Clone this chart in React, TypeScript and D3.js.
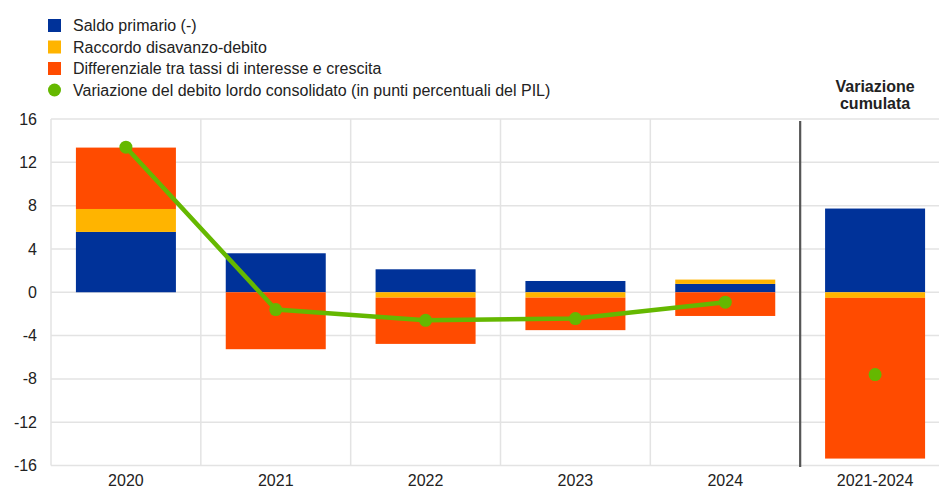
import React from "react";
import * as d3 from "d3";

const categories = ["2020", "2021", "2022", "2023", "2024", "2021-2024"];
const saldoPrimario = [5.57, 3.6, 2.12, 1.04, 0.77, 7.73];
const raccordo = [2.12, 0, -0.5, -0.5, 0.4, -0.52];
const differenziale = [5.67, -5.26, -4.27, -3.0, -2.19, -14.84];
const variazioneDebito = [13.4, -1.6, -2.59, -2.43, -0.92, -7.6];
const yTicks = [-16, -12, -8, -4, 0, 4, 8, 12, 16];
const seriesNames = [
  "Saldo primario (-)",
  "Raccordo disavanzo-debito",
  "Differenziale tra tassi di interesse e crescita",
  "Variazione del debito lordo consolidato (in punti percentuali del PIL)",
];
const colors = ["#003299", "#FFB400", "#FF4B00", "#65B800"];

const W = 939;
const H = 490;
const FONT = "'Liberation Sans', Arial, sans-serif";
const FS = 16;

export default function App() {
  const x = d3.scaleBand<string>().domain(categories).range([51, 950]).padding(0);
  const y = d3.scaleLinear().domain([-16, 16]).range([465.5, 119]);
  const bw = x.bandwidth();
  const barW = 100;

  const table = categories.map((c, i) => ({
    cat: c,
    s0: saldoPrimario[i],
    s1: raccordo[i],
    s2: differenziale[i],
  }));
  const stack = d3
    .stack<any>()
    .keys(["s0", "s1", "s2"])
    .offset(d3.stackOffsetDiverging);
  const stacked = stack(table);

  const lineCats = categories.slice(0, 5);
  const lineGen = d3
    .line<number>()
    .x((_, i) => (x(lineCats[i]) as number) + bw / 2)
    .y((d) => y(d));

  const sepX = x("2021-2024") as number;

  return (
    <svg
      width={W}
      height={H}
      style={{ position: "absolute", left: 0, top: 0, fontFamily: FONT }}
    >
      <rect width={W} height={H} fill="#fff" />
      {/* grid */}
      {yTicks.map((t) => (
        <line
          key={"g" + t}
          x1={51}
          x2={939}
          y1={y(t)}
          y2={y(t)}
          stroke="#e3e3e3"
          strokeWidth={1.5}
        />
      ))}
      {categories.slice(0, 5).map((c) => (
        <line
          key={"v" + c}
          x1={x(c) as number}
          x2={x(c) as number}
          y1={y(16)}
          y2={y(-16)}
          stroke="#e3e3e3"
          strokeWidth={1.5}
        />
      ))}
      {/* y tick labels */}
      {yTicks.map((t) => (
        <text
          key={"t" + t}
          x={37}
          y={y(t)}
          dy="0.35em"
          textAnchor="end"
          fontSize={FS}
          fill="#222"
        >
          {t}
        </text>
      ))}
      {/* bars */}
      {stacked.map((s, si) =>
        s.map((d, i) => {
          const y0 = y(d[0]);
          const y1 = y(d[1]);
          const h = Math.abs(y0 - y1);
          if (h < 0.01) return null;
          return (
            <rect
              key={si + "-" + i}
              x={(x(categories[i]) as number) + (bw - barW) / 2}
              y={Math.min(y0, y1)}
              width={barW}
              height={h}
              fill={colors[si]}
            />
          );
        })
      )}
      {/* separator */}
      <line
        x1={sepX}
        x2={sepX}
        y1={121}
        y2={467}
        stroke="#555"
        strokeWidth={2.2}
      />
      {/* line */}
      <path
        d={lineGen(variazioneDebito.slice(0, 5)) || ""}
        fill="none"
        stroke={colors[3]}
        strokeWidth={4.5}
        strokeLinejoin="round"
      />
      {variazioneDebito.map((v, i) => (
        <circle
          key={"c" + i}
          cx={(x(categories[i]) as number) + bw / 2}
          cy={y(v)}
          r={6.5}
          fill={colors[3]}
        />
      ))}
      {/* x labels */}
      {categories.map((c) => (
        <text
          key={"x" + c}
          x={(x(c) as number) + bw / 2}
          y={486}
          textAnchor="middle"
          fontSize={FS}
          fill="#222"
        >
          {c}
        </text>
      ))}
      {/* cumulated title */}
      <text
        x={sepX + bw / 2}
        y={92}
        textAnchor="middle"
        fontSize={FS}
        fontWeight="bold"
        fill="#222"
      >
        <tspan x={sepX + bw / 2}>Variazione</tspan>
        <tspan x={sepX + bw / 2} dy={17}>
          cumulata
        </tspan>
      </text>
      {/* legend */}
      {seriesNames.map((n, i) => {
        const cy = 25.5 + i * 21.5;
        return (
          <g key={"l" + i}>
            {i < 3 ? (
              <rect x={48} y={cy - 6.5} width={13} height={13} fill={colors[i]} />
            ) : (
              <circle cx={54.5} cy={cy} r={6.5} fill={colors[i]} />
            )}
            <text x={73} y={cy} dy="0.35em" fontSize={FS} fill="#222">
              {n}
            </text>
          </g>
        );
      })}
    </svg>
  );
}
